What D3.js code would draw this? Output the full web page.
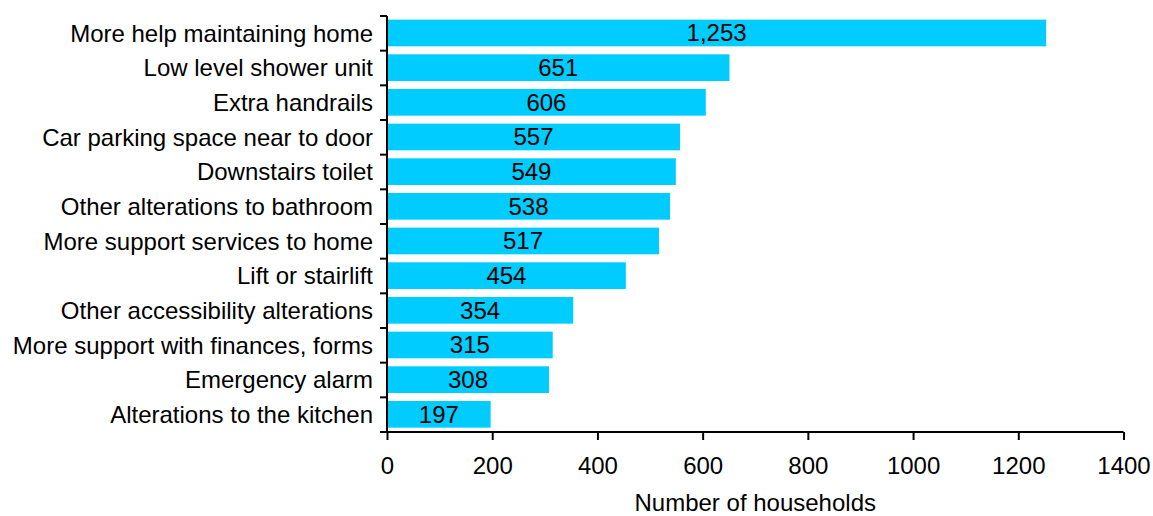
<!DOCTYPE html>
<html>
<head>
<meta charset="utf-8">
<script src="https://cdn.jsdelivr.net/npm/d3@7"></script>
<style>
  html, body { margin: 0; padding: 0; background: #fff; }
  svg { display: block; font-family: Arial, "Liberation Sans", sans-serif; }
</style>
</head>
<body>
<svg id="chart" width="1153" height="516"></svg>
<script>
// Adaptations households said they needed
const categories = [
  "More help maintaining home",
  "Low level shower unit",
  "Extra handrails",
  "Car parking space near to door",
  "Downstairs toilet",
  "Other alterations to bathroom",
  "More support services to home",
  "Lift or stairlift",
  "Other accessibility alterations",
  "More support with finances, forms",
  "Emergency alarm",
  "Alterations to the kitchen"
];
const households = [1253, 651, 606, 557, 549, 538, 517, 454, 354, 315, 308, 197];
const xTicks = [0, 200, 400, 600, 800, 1000, 1200, 1400];
const xTitle = "Number of households";

const svg = d3.select("#chart");
const FONT = 24;

const x = d3.scaleLinear().domain([0, 1400]).range([387, 1123.5]);
const y = d3.scaleBand().domain(categories).range([16, 432]);
const step = y.bandwidth();
const barOffset = step * 0.105;
const barH = step * 0.77;

const fmt = d3.format(",");

// bars
svg.append("g").selectAll("rect")
  .data(categories)
  .join("rect")
  .attr("x", x(0))
  .attr("y", (d) => y(d) + barOffset)
  .attr("width", (d, i) => x(households[i]) - x(0))
  .attr("height", barH)
  .attr("fill", "#00ccff");

// value labels centred in each bar
svg.append("g").selectAll("text")
  .data(categories)
  .join("text")
  .attr("x", (d, i) => x(households[i] / 2))
  .attr("y", (d) => y(d) + barOffset + barH / 2)
  .attr("dy", "0.35em")
  .attr("text-anchor", "middle")
  .attr("font-size", FONT)
  .attr("fill", "#000")
  .text((d, i) => fmt(households[i]));

// y axis: ticks sit on the band boundaries
const yAxis = svg.append("g").attr("transform", `translate(${x(0)},0)`);
const bounds = categories.map((c) => y(c)).concat([y.range()[1]]);
yAxis.append("line")
  .attr("x1", 0).attr("x2", 0)
  .attr("y1", y.range()[0]).attr("y2", y.range()[1])
  .attr("stroke", "#000").attr("stroke-width", 2);
yAxis.selectAll("line.tick")
  .data(bounds)
  .join("line")
  .attr("class", "tick")
  .attr("x1", -7).attr("x2", 0)
  .attr("y1", (d) => d).attr("y2", (d) => d)
  .attr("stroke", "#000").attr("stroke-width", 2);
yAxis.selectAll("text")
  .data(categories)
  .join("text")
  .attr("x", -14)
  .attr("y", (d) => y(d) + step / 2)
  .attr("dy", "0.35em")
  .attr("text-anchor", "end")
  .attr("font-size", FONT)
  .attr("fill", "#000")
  .text((d) => d);

// x axis
const xAxis = svg.append("g")
  .attr("transform", `translate(0,${y.range()[1]})`)
  .call(d3.axisBottom(x).tickValues(xTicks).tickSize(8).tickPadding(17).tickFormat(d3.format("d")));
xAxis.select(".domain").attr("stroke-width", 2).attr("d", `M${x(0)},0H${x(1400)}`);
xAxis.selectAll(".tick line").attr("stroke-width", 2);
xAxis.selectAll(".tick text").attr("font-size", FONT).attr("fill", "#000")
  .attr("font-family", "Arial, 'Liberation Sans', sans-serif");

svg.append("text")
  .attr("x", (x(0) + x(1400)) / 2)
  .attr("y", 511)
  .attr("text-anchor", "middle")
  .attr("font-size", FONT)
  .attr("fill", "#000")
  .text(xTitle);
</script>
</body>
</html>
